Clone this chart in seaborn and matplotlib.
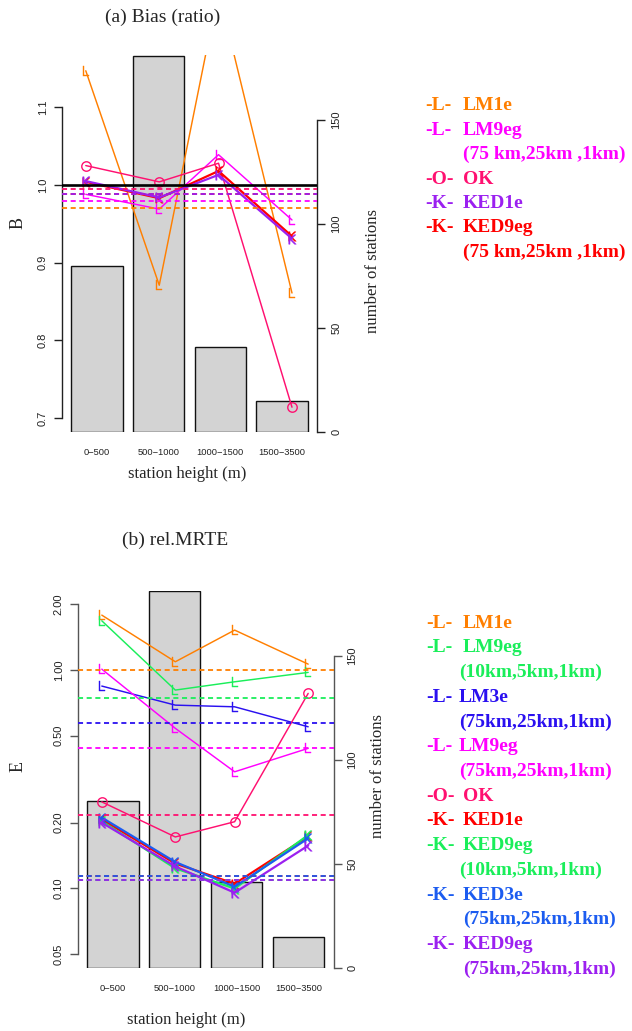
import matplotlib
matplotlib.use("Agg")
import matplotlib.pyplot as plt
from matplotlib.ticker import NullLocator
import seaborn as sns

# ------------------------------------------------------------------ data
height_classes = ["0−500", "500−1000", "1000−1500", "1500−3500"]
n_stations = [80, 181, 41, 15]

# panel (a): Bias (ratio)
bias_names = ["LM1e", "LM9eg", "OK", "KED1e", "KED9eg"]
bias_notes = ["", "(75 km,25km ,1km)", "", "", "(75 km,25km ,1km)"]
bias_symbols = ["L", "L", "O", "K", "K"]
bias_lm1e = [1.147, 0.871, 1.250, 0.861]
bias_lm9eg = [0.988, 0.969, 1.039, 0.955]
bias_ok = [1.025, 1.004, 1.028, 0.714]
bias_ked1e = [1.005, 0.984, 1.013, 0.931]
bias_ked9eg = [1.004, 0.983, 1.018, 0.934]
bias_overall = [0.971, 0.979, 0.995, 0.989, 0.989]
bias_reference = 1.0

# panel (b): rel.MRTE
mrte_names = ["LM1e", "LM9eg", "LM3e", "LM9eg", "OK",
              "KED1e", "KED9eg", "KED3e", "KED9eg"]
mrte_notes = ["", "(10km,5km,1km)", "(75km,25km,1km)", "(75km,25km,1km)", "",
              "", "(10km,5km,1km)", "(75km,25km,1km)", "(75km,25km,1km)"]
mrte_symbols = ["L", "L", "L", "L", "O", "K", "K", "K", "K"]
mrte_lm1e = [1.786, 1.092, 1.525, 1.065]
mrte_lm9eg_10 = [1.682, 0.810, 0.884, 0.976]
mrte_lm3e = [0.845, 0.691, 0.679, 0.550]
mrte_lm9eg_75 = [1.010, 0.541, 0.342, 0.438]
mrte_ok = [0.249, 0.172, 0.202, 0.782]
mrte_ked1e = [0.207, 0.130, 0.105, 0.173]
mrte_ked9eg_10 = [0.203, 0.1235, 0.0998, 0.1755]
mrte_ked3e = [0.211, 0.132, 0.1017, 0.1695]
mrte_ked9eg_75 = [0.200, 0.126, 0.0955, 0.157]
mrte_overall = [1.0, 0.747, 0.570, 0.438, 0.217, 0.1142, 0.109, 0.1142, 0.109]

# ------------------------------------------------------------------ style
ORANGE = "#FF7F00"
MAGENTA = "#FF00FF"
PINK = "#FF1070"
PURPLE = "#9B20F0"
RED = "#FF0000"
GREEN = "#1AEE5A"
BLUE = "#2A10F0"
BLUE2 = "#1C5CF0"

bias_colors = [ORANGE, MAGENTA, PINK, PURPLE, RED]
mrte_colors = [ORANGE, GREEN, BLUE, MAGENTA, PINK, RED, GREEN, BLUE2, PURPLE]

# marker positions along the bar axis (as in the original figure)
marker_pos = [-0.18, 1.01, 1.97, 3.16]

sns.set_theme(style="white")
plt.rcParams["font.family"] = ["Liberation Sans", "DejaVu Sans"]
SERIF = "Liberation Serif"

W, H = 632, 1031
fig = plt.figure(figsize=(W / 100, H / 100), dpi=100)


def px_rect(x0, x1, ytop, ybot):
    return [x0 / W, 1 - ybot / H, (x1 - x0) / W, (ybot - ytop) / H]


def draw_panel(rect, series, symbols, colors, overall, draw_order, ylim,
               yticks, ylabels, log, title, title_xy, ylab, ylab_xy, y2lab_xy,
               xlab_xy, axis_col, reference=None):
    ax_bar = fig.add_axes(rect)
    sns.barplot(x=height_classes, y=n_stations, ax=ax_bar, color="#D3D3D3",
                saturation=1, edgecolor="#111111", linewidth=1.0,
                width=1 / 1.2)
    ax_line = ax_bar.twinx()

    for i in draw_order:
        vals, sym, col = series[i], symbols[i], colors[i]
        lw = 1.6 if sym == "K" else 1.05
        if sym == "O":
            mk = dict(marker="o", ms=6.8, mfc="none", mec=col, mew=1.0)
        else:
            mk = dict(marker=r"$\mathsf{%s}$" % sym, ms=6.8, mfc=col, mec=col,
                      mew=0.3)
        sns.lineplot(x=marker_pos, y=vals, ax=ax_line, color=col, lw=lw,
                     sort=False, legend=False, zorder=3, **mk)

    for i in draw_order:
        ax_line.axhline(overall[i], color=colors[i], lw=1.3,
                        ls=(0, (2.8, 2.0)), zorder=4)
    if reference is not None:
        ax_line.axhline(reference, color="black", lw=1.9, zorder=5)

    if log:
        ax_line.set_yscale("log")
    ax_line.set_ylim(*ylim)
    ax_line.set_yticks(yticks, labels=ylabels, rotation=90, va="center")
    ax_line.yaxis.set_minor_locator(NullLocator())
    ax_line.yaxis.tick_left()
    ax_line.yaxis.set_label_position("left")

    ax_bar.set_ylim(0, 181.3)
    ax_bar.set_yticks([0, 50, 100, 150], labels=["0", "50", "100", "150"],
                      rotation=90, va="center")
    ax_bar.yaxis.tick_right()
    ax_bar.yaxis.set_label_position("right")
    ax_bar.set_xlim(-0.57, 3.57)

    for a in (ax_bar, ax_line):
        for s in ("top", "bottom"):
            a.spines[s].set_visible(False)
    ax_bar.spines["left"].set_visible(False)
    ax_line.spines["right"].set_visible(False)
    ax_line.spines["left"].set_bounds(yticks[0], yticks[-1])
    ax_line.spines["left"].set_color(axis_col)
    ax_line.spines["left"].set_linewidth(1.0)
    ax_bar.spines["right"].set_bounds(0, 150)
    ax_bar.spines["right"].set_color(axis_col)
    ax_bar.spines["right"].set_linewidth(1.0)

    ax_line.tick_params(axis="y", which="major", left=True, right=False,
                        length=5.6, width=1.0, color=axis_col, pad=4.5,
                        labelsize=8, labelcolor="#222222")
    ax_bar.tick_params(axis="y", which="major", right=True, left=False,
                       length=5.6, width=1.0, color=axis_col, pad=4.5,
                       labelsize=8, labelcolor="#222222")
    ax_bar.tick_params(axis="x", length=0, pad=11.5, labelsize=6.7,
                       labelcolor="#222222")

    ax_line.set_title(title, family=SERIF, fontsize=14, x=title_xy[0],
                      y=title_xy[1], va="center", pad=0)
    ax_line.set_ylabel(ylab, family=SERIF, fontsize=13)
    ax_line.yaxis.label.set(ha="center", va="center")
    ax_line.yaxis.set_label_coords(*ylab_xy)
    ax_bar.set_ylabel("number of stations", family=SERIF, fontsize=12)
    ax_bar.yaxis.label.set(ha="center", va="center")
    ax_bar.yaxis.set_label_coords(*y2lab_xy)
    ax_bar.set_xlabel("station height (m)", family=SERIF, fontsize=12)
    ax_bar.xaxis.label.set(ha="center", va="center")
    ax_bar.xaxis.set_label_coords(*xlab_xy)
    ax_line.set_xlabel("")
    return ax_bar, ax_line


def draw_legend(names, notes, symbols, colors, tag_x, name_x, note_x, y0, dy):
    row = 0
    kw = dict(family=SERIF, fontsize=14, fontweight="bold", va="baseline",
              ha="left")
    for i, (nm, nt, sym, col) in enumerate(zip(names, notes, symbols, colors)):
        y = 1 - (y0 + row * dy) / H
        fig.text(tag_x / W, y, f"-{sym}-", color=col, **kw)
        fig.text(name_x[i] / W, y, nm, color=col, **kw)
        row += 1
        if nt:
            y = 1 - (y0 + row * dy) / H
            fig.text(note_x[i] / W, y, nt, color=col, **kw)
            row += 1


# ------------------------------------------------------------------ panel (a)
draw_panel(px_rect(61.7, 317.3, 55, 432.3),
           [bias_lm1e, bias_lm9eg, bias_ok, bias_ked1e, bias_ked9eg],
           bias_symbols, bias_colors, bias_overall,
           draw_order=[0, 1, 2, 4, 3],
           ylim=(0.6817, 1.1673),
           yticks=[0.7, 0.8, 0.9, 1.0, 1.1],
           ylabels=["0.7", "0.8", "0.9", "1.0", "1.1"],
           log=False, title="(a) Bias (ratio)", title_xy=(0.396, 1.101),
           ylab="B", ylab_xy=(-0.171, 0.555), y2lab_xy=(1.218, 0.4275),
           xlab_xy=(0.489, -0.1105), axis_col="#222222",
           reference=bias_reference)

draw_legend(bias_names, bias_notes, bias_symbols, bias_colors,
            tag_x=425, name_x=[463] * 5, note_x=[463] * 5, y0=110, dy=24.5)

# ------------------------------------------------------------------ panel (b)
draw_panel(px_rect(77.7, 333.5, 590.7, 967.7),
           [mrte_lm1e, mrte_lm9eg_10, mrte_lm3e, mrte_lm9eg_75, mrte_ok,
            mrte_ked1e, mrte_ked9eg_10, mrte_ked3e, mrte_ked9eg_75],
           mrte_symbols, mrte_colors, mrte_overall,
           draw_order=[0, 1, 2, 3, 4, 5, 6, 7, 8],
           ylim=(0.0433, 2.311),
           yticks=[0.05, 0.1, 0.2, 0.5, 1.0, 2.0],
           ylabels=["0.05", "0.10", "0.20", "0.50", "1.00", "2.00"],
           log=True, title="(b) rel.MRTE", title_xy=(0.380, 1.1345),
           ylab="E", ylab_xy=(-0.2334, 0.533), y2lab_xy=(1.174, 0.5085),
           xlab_xy=(0.426, -0.1387), axis_col="#555555")

draw_legend(mrte_names, mrte_notes, mrte_symbols, mrte_colors,
            tag_x=426,
            name_x=[463, 463, 459, 459, 463, 463, 463, 463, 463],
            note_x=[459, 459, 459, 459, 459, 459, 459, 463, 463],
            y0=627.7, dy=24.71)

fig.savefig("out.png", dpi=100)
